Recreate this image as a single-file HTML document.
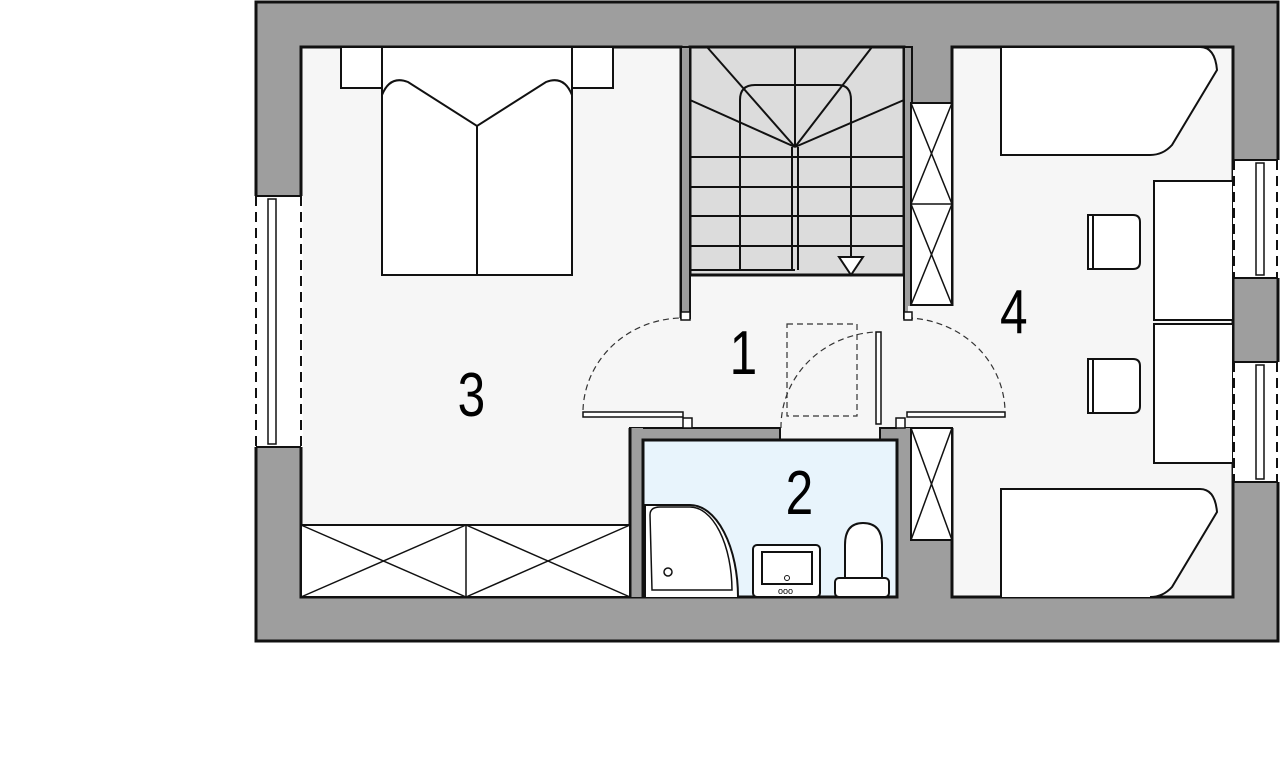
<!DOCTYPE html>
<html><head><meta charset="utf-8"><style>
html,body{margin:0;padding:0;background:#fff;width:1280px;height:773px;overflow:hidden}
text{font-family:"Liberation Sans",sans-serif;font-size:62px;fill:#000}
</style></head><body>
<svg width="1280" height="773" viewBox="0 0 1280 773" xmlns="http://www.w3.org/2000/svg">
<rect x="256" y="2" width="1022" height="639" fill="#9e9e9e" stroke="#111" stroke-width="3"/>
<rect x="301" y="47" width="380" height="550" fill="#f6f6f6" stroke="#111" stroke-width="3"/>
<rect x="681" y="275" width="230" height="165" fill="#f6f6f6"/>
<rect x="630" y="318" width="300" height="110" fill="#f6f6f6"/>
<rect x="690" y="47" width="214" height="228" fill="#dcdcdc" stroke="#111" stroke-width="3"/>
<rect x="681" y="47" width="9" height="271" fill="#9e9e9e" stroke="#111" stroke-width="2"/>
<rect x="904" y="47" width="8" height="271" fill="#9e9e9e" stroke="#111" stroke-width="2"/>
<g stroke="#111" stroke-width="2" fill="none">
<line x1="690" y1="157" x2="904" y2="157"/><line x1="690" y1="187" x2="904" y2="187"/>
<line x1="690" y1="216" x2="904" y2="216"/><line x1="690" y1="246" x2="904" y2="246"/>
<line x1="690" y1="270" x2="795" y2="270"/>
<line x1="740" y1="150" x2="740" y2="270"/>
<path d="M740 157 V100 Q740 85 755 85 H838 Q851 85 851 100 V260"/>
<line x1="795" y1="47" x2="795" y2="147"/>
<line x1="795" y1="147" x2="690" y2="100"/><line x1="795" y1="147" x2="707" y2="47"/>
<line x1="795" y1="147" x2="872" y2="47"/><line x1="795" y1="147" x2="904" y2="100"/>
<line x1="792" y1="147" x2="792" y2="270"/><line x1="798" y1="147" x2="798" y2="270"/>
<path d="M839 257 H863 L851 275 Z" fill="#fff"/>
</g>
<rect x="952" y="47" width="281" height="550" fill="#f6f6f6" stroke="#111" stroke-width="3"/>
<rect x="908" y="306" width="46" height="122" fill="#f6f6f6"/>
<rect x="911" y="103" width="41" height="202" fill="#fff" stroke="#111" stroke-width="2"/>
<g stroke="#111" stroke-width="1.5"><line x1="911" y1="103" x2="952" y2="204"/><line x1="952" y1="103" x2="911" y2="204"/><line x1="911" y1="204" x2="952" y2="305"/><line x1="952" y1="204" x2="911" y2="305"/><line x1="911" y1="204" x2="952" y2="204"/></g>
<rect x="630" y="428" width="150" height="12" fill="#9e9e9e" stroke="#111" stroke-width="2"/>
<rect x="880" y="428" width="30" height="12" fill="#9e9e9e" stroke="#111" stroke-width="2"/>
<rect x="630" y="428" width="13" height="169" fill="#9e9e9e"/>
<rect x="897" y="428" width="55" height="169" fill="#9e9e9e"/>
<rect x="643" y="440" width="254" height="157" fill="#e8f4fc" stroke="#111" stroke-width="3"/>
<line x1="630" y1="428" x2="630" y2="597" stroke="#111" stroke-width="3"/>
<rect x="911" y="428" width="41" height="112" fill="#fff" stroke="#111" stroke-width="2"/>
<g stroke="#111" stroke-width="1.5"><line x1="911" y1="428" x2="952" y2="540"/><line x1="952" y1="428" x2="911" y2="540"/></g>
<line x1="952" y1="540" x2="952" y2="597" stroke="#111" stroke-width="3"/>
<path d="M645 597 V505 H690 A48 92 0 0 1 738 597" fill="#fff" stroke="#111" stroke-width="2"/>
<path d="M652 590 L650 515 Q650 507 660 507 H690 A42 84 0 0 1 732 590 Z" fill="#fff" stroke="#111" stroke-width="1.5"/>
<circle cx="668" cy="572" r="4" fill="none" stroke="#111" stroke-width="1.5"/>
<rect x="753" y="545" width="67" height="52" rx="4" fill="#fff" stroke="#111" stroke-width="2"/>
<rect x="762" y="552" width="50" height="32" fill="#fff" stroke="#111" stroke-width="2"/>
<circle cx="787" cy="578" r="2.5" fill="none" stroke="#111"/>
<text x="778" y="594" style="font-size:9px">ooo</text>
<path d="M845 580 V545 Q845 523 863 523 Q882 523 882 545 V580" fill="#fff" stroke="#111" stroke-width="2"/>
<rect x="835" y="578" width="54" height="19" rx="4" fill="#fff" stroke="#111" stroke-width="2"/>
<g fill="none" stroke="#333" stroke-width="1.2" stroke-dasharray="6,4">
<path d="M583 410 A100 95 0 0 1 683 318"/>
<path d="M907 318 A100 95 0 0 1 1005 410"/>
<rect x="787" y="324" width="70" height="92"/>
<path d="M781 428 A100 95 0 0 1 876 332"/>
</g>
<g fill="#fff" stroke="#111" stroke-width="1.5">
<rect x="583" y="412" width="100" height="5"/>
<rect x="907" y="412" width="98" height="5"/>
<rect x="876" y="332" width="5" height="92"/>
<rect x="681" y="312" width="9" height="8"/><rect x="904" y="312" width="8" height="8"/>
<rect x="683" y="418" width="9" height="10"/><rect x="896" y="418" width="9" height="10"/>
</g>
<rect x="341" y="47" width="272" height="41" fill="#fff" stroke="#111" stroke-width="2"/>
<rect x="382" y="47" width="190" height="228" fill="#fff" stroke="#111" stroke-width="2"/>
<path d="M382 95 Q390 75 408 82 L477 126 L546 82 Q564 75 572 95" fill="none" stroke="#111" stroke-width="2"/>
<line x1="477" y1="126" x2="477" y2="275" stroke="#111" stroke-width="2"/>
<rect x="301" y="525" width="329" height="72" fill="#fff" stroke="#111" stroke-width="2"/>
<g stroke="#111" stroke-width="1.5"><line x1="466" y1="525" x2="466" y2="597"/><line x1="301" y1="525" x2="466" y2="597"/><line x1="466" y1="525" x2="301" y2="597"/><line x1="466" y1="525" x2="630" y2="597"/><line x1="630" y1="525" x2="466" y2="597"/></g>
<rect x="254" y="196" width="49" height="251" fill="#fff"/>
<g stroke="#111" stroke-width="2" stroke-dasharray="10,6"><line x1="256" y1="196" x2="256" y2="447"/><line x1="301" y1="196" x2="301" y2="447"/></g>
<rect x="268" y="199" width="8" height="245" fill="#fff" stroke="#111" stroke-width="1.5"/>
<line x1="256" y1="196" x2="301" y2="196" stroke="#111" stroke-width="2"/><line x1="256" y1="447" x2="301" y2="447" stroke="#111" stroke-width="2"/>
<path d="M1001 47 H1200 Q1215 47 1217 70 L1172 145 Q1163 155 1150 155 H1001 Z" fill="#fff" stroke="#111" stroke-width="2"/>
<path d="M1001 597 V489 H1200 Q1215 489 1217 512 L1172 587 Q1163 597 1150 597" fill="#fff" stroke="#111" stroke-width="2"/>
<rect x="1154" y="181" width="79" height="139" fill="#fff" stroke="#111" stroke-width="2"/>
<rect x="1154" y="324" width="79" height="139" fill="#fff" stroke="#111" stroke-width="2"/>
<path d="M1088 215 H1133 Q1140 215 1140 222 V262 Q1140 269 1133 269 H1088 Z M1093 215 V269" fill="#fff" stroke="#111" stroke-width="2"/>
<path d="M1088 359 H1133 Q1140 359 1140 366 V406 Q1140 413 1133 413 H1088 Z M1093 359 V413" fill="#fff" stroke="#111" stroke-width="2"/>
<rect x="1233" y="160" width="47" height="118" fill="#fff"/>
<rect x="1233" y="362" width="47" height="120" fill="#fff"/>
<g stroke="#111" stroke-width="2" stroke-dasharray="10,6"><line x1="1234" y1="160" x2="1234" y2="278"/><line x1="1277" y1="160" x2="1277" y2="278"/><line x1="1234" y1="362" x2="1234" y2="482"/><line x1="1277" y1="362" x2="1277" y2="482"/></g>
<rect x="1256" y="163" width="8" height="112" fill="#fff" stroke="#111" stroke-width="1.5"/>
<rect x="1256" y="365" width="8" height="114" fill="#fff" stroke="#111" stroke-width="1.5"/>
<g stroke="#111" stroke-width="2"><line x1="1233" y1="160" x2="1278" y2="160"/><line x1="1233" y1="278" x2="1278" y2="278"/><line x1="1233" y1="362" x2="1278" y2="362"/><line x1="1233" y1="482" x2="1278" y2="482"/></g>
<g transform="scale(0.8,1)">
<text x="572" y="416">3</text>
<text x="912" y="374">1</text>
<text x="982" y="514">2</text>
<text x="1250" y="333">4</text>
</g>
</svg>
</body></html>
